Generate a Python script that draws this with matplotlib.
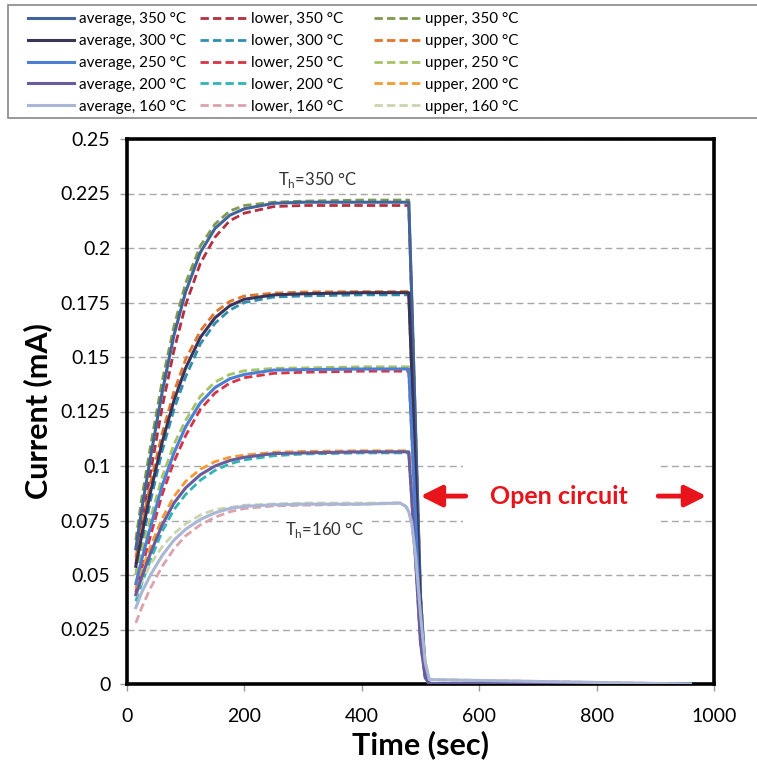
import matplotlib
matplotlib.use("Agg")
import matplotlib.pyplot as plt
from matplotlib.patches import Rectangle

plt.rcParams['font.family'] = ['Lato', 'DejaVu Sans']

# ---------------- data ----------------
time_s = [15, 25, 40, 60, 80, 100, 125, 150, 175, 200, 250, 300, 400, 465, 475, 480, 485, 492, 500, 508, 515, 960]

avg_350 = [0.062, 0.080, 0.104, 0.134, 0.160, 0.180, 0.198, 0.209, 0.215, 0.218, 0.2205, 0.221, 0.221, 0.221, 0.221, 0.221, 0.178, 0.113, 0.040, 0.007, 0, 0]
avg_300 = [0.054, 0.068, 0.088, 0.111, 0.130, 0.145, 0.159, 0.168, 0.1735, 0.1765, 0.1785, 0.179, 0.1795, 0.1795, 0.1795, 0.1795, 0.144, 0.092, 0.033, 0.006, 0, 0]
avg_250 = [0.046, 0.057, 0.072, 0.091, 0.106, 0.118, 0.129, 0.136, 0.140, 0.142, 0.144, 0.1442, 0.1445, 0.1445, 0.1445, 0.1445, 0.116, 0.074, 0.026, 0.004, 0, 0]
avg_200 = [0.041, 0.049, 0.060, 0.073, 0.083, 0.090, 0.096, 0.100, 0.1025, 0.104, 0.1057, 0.106, 0.1065, 0.1065, 0.1065, 0.1065, 0.085, 0.055, 0.019, 0.003, 0, 0]
avg_160 = [0.035, 0.042, 0.050, 0.059, 0.066, 0.071, 0.0755, 0.0785, 0.0805, 0.0815, 0.0822, 0.0825, 0.0825, 0.083, 0.0815, 0.079, 0.074, 0.058, 0.032, 0.010, 0.002, 0]

lower_350 = [0.055, 0.073, 0.097, 0.127, 0.153, 0.174, 0.193, 0.205, 0.2125, 0.216, 0.219, 0.2195, 0.2195, 0.2195, 0.2195, 0.2195, 0.176, 0.112, 0.040, 0.007, 0, 0]
lower_300 = [0.050, 0.064, 0.084, 0.107, 0.126, 0.141, 0.156, 0.1655, 0.1715, 0.175, 0.1775, 0.178, 0.1785, 0.1785, 0.1785, 0.1785, 0.143, 0.091, 0.033, 0.006, 0, 0]
lower_250 = [0.042, 0.053, 0.068, 0.087, 0.102, 0.114, 0.126, 0.1335, 0.138, 0.1405, 0.1425, 0.143, 0.1435, 0.1435, 0.1435, 0.1435, 0.115, 0.073, 0.026, 0.004, 0, 0]
lower_200 = [0.038, 0.046, 0.057, 0.070, 0.080, 0.087, 0.0935, 0.098, 0.101, 0.1028, 0.1047, 0.1055, 0.106, 0.106, 0.106, 0.106, 0.085, 0.055, 0.019, 0.003, 0, 0]
lower_160 = [0.028, 0.035, 0.044, 0.054, 0.062, 0.068, 0.073, 0.0765, 0.079, 0.0805, 0.0817, 0.082, 0.0825, 0.083, 0.0815, 0.079, 0.074, 0.058, 0.032, 0.010, 0.002, 0]

upper_350 = [0.066, 0.085, 0.109, 0.139, 0.164, 0.184, 0.201, 0.211, 0.217, 0.2195, 0.221, 0.2215, 0.222, 0.222, 0.222, 0.222, 0.178, 0.114, 0.041, 0.007, 0, 0]
upper_300 = [0.058, 0.072, 0.092, 0.115, 0.134, 0.149, 0.162, 0.1705, 0.1755, 0.178, 0.1793, 0.1798, 0.180, 0.180, 0.180, 0.180, 0.144, 0.093, 0.034, 0.006, 0, 0]
upper_250 = [0.050, 0.061, 0.076, 0.095, 0.110, 0.121, 0.132, 0.1385, 0.142, 0.1437, 0.1448, 0.145, 0.1455, 0.1455, 0.1455, 0.1455, 0.117, 0.075, 0.027, 0.004, 0, 0]
upper_200 = [0.044, 0.052, 0.063, 0.076, 0.086, 0.093, 0.0985, 0.102, 0.104, 0.105, 0.1063, 0.1067, 0.107, 0.107, 0.107, 0.107, 0.086, 0.056, 0.020, 0.003, 0, 0]
upper_160 = [0.040, 0.047, 0.055, 0.063, 0.069, 0.0735, 0.0775, 0.080, 0.081, 0.082, 0.0826, 0.083, 0.083, 0.083, 0.0815, 0.079, 0.074, 0.058, 0.032, 0.010, 0.002, 0]

temps = ["350", "300", "250", "200", "160"]
avg_series = [avg_350, avg_300, avg_250, avg_200, avg_160]
lower_series = [lower_350, lower_300, lower_250, lower_200, lower_160]
upper_series = [upper_350, upper_300, upper_250, upper_200, upper_160]

avg_colors = ["#41649a", "#3b3458", "#4a7fd4", "#6a5b9e", "#aab6d6"]
lower_colors = ["#b5303f", "#2f8fb0", "#d83444", "#2fb5b5", "#dba3ab"]
upper_colors = ["#7d9a4e", "#e2742c", "#a6c464", "#f59a33", "#c9d6ad"]

y_ticks = [0, 0.025, 0.05, 0.075, 0.1, 0.125, 0.15, 0.175, 0.2, 0.225, 0.25]
y_tick_labels = ["0", "0.025", "0.05", "0.075", "0.1", "0.125", "0.15", "0.175", "0.2", "0.225", "0.25"]
x_ticks = [0, 200, 400, 600, 800, 1000]

# ---------------- figure ----------------
W, H = 757, 763
fig = plt.figure(figsize=(W / 100, H / 100), dpi=100)
ax = fig.add_axes([127 / W, 1 - 684 / H, (714 - 127) / W, (684 - 139) / H])

ax.set_xlim(0, 1000)
ax.set_ylim(0, 0.25)
ax.set_yticks(y_ticks)
ax.set_yticklabels(y_tick_labels)
ax.set_xticks(x_ticks)
ax.tick_params(axis='both', labelsize=14, length=5, width=1, color='#999999')
ax.tick_params(axis='x', pad=12)
ax.tick_params(axis='y', pad=7)
for s in ax.spines.values():
    s.set_linewidth(2.6)
    s.set_color('black')
ax.grid(axis='y', color='#a8a8a8', linestyle=(0, (5, 3)), linewidth=1)
ax.set_axisbelow(True)

avg_handles, lower_handles, upper_handles = [], [], []
for i in range(5):
    l2, = ax.plot(time_s, lower_series[i], color=lower_colors[i], lw=2.0, ls=(0, (3, 1.5)), zorder=3,
                  label=f"lower, {temps[i]} °C")
    l3, = ax.plot(time_s, upper_series[i], color=upper_colors[i], lw=2.0, ls=(0, (3, 1.5)), zorder=3,
                  label=f"upper, {temps[i]} °C")
    lower_handles.append(l2)
    upper_handles.append(l3)
for i in range(5):
    l1, = ax.plot(time_s, avg_series[i], color=avg_colors[i], lw=2.2, zorder=3.5,
                  label=f"average, {temps[i]} °C")
    avg_handles.append(l1)

# annotations
ax.text(325, 0.2312, "T$_\\mathregular{h}$=350 °C", fontsize=12, ha='center', va='center', color='#333333')
ax.text(337, 0.0705, "T$_\\mathregular{h}$=160 °C", fontsize=12, ha='center', va='center', color='#333333',
        bbox=dict(facecolor='white', edgecolor='none', pad=4), zorder=2)

ax.add_patch(Rectangle((572, 0.066), 331, 0.040, facecolor='white', edgecolor='none', zorder=1.5))
red = '#e8141c'
ax.text(735, 0.0862, "Open circuit", fontsize=18, fontweight='bold', color=red, ha='center', va='center', zorder=4)
ax.annotate("", xy=(500, 0.0862), xytext=(577, 0.0862),
            arrowprops=dict(arrowstyle='-|>', color=red, lw=3.5, mutation_scale=32, shrinkA=0, shrinkB=0), zorder=4)
ax.annotate("", xy=(987, 0.0862), xytext=(905, 0.0862),
            arrowprops=dict(arrowstyle='-|>', color=red, lw=3.5, mutation_scale=32, shrinkA=0, shrinkB=0), zorder=4)

ax.set_xlabel("Time (sec)", fontsize=22, fontweight='bold', labelpad=4)
ax.set_ylabel("Current (mA)", fontsize=22, fontweight='bold', labelpad=6)

# legend (three columns, one framed box)
fig.patches.append(Rectangle((8 / W, 1 - 118 / H), (W - 8) / W + 0.01, 113 / H, transform=fig.transFigure,
                             facecolor='white', edgecolor='#888888', lw=1.2, zorder=0))
col_x = [28, 200, 374]
for cx, hs in zip(col_x, [avg_handles, lower_handles, upper_handles]):
    fig.legend(handles=hs, loc='upper left', bbox_to_anchor=(cx / W, 1 - 12 / H),
               frameon=False, fontsize=11, handlelength=3.0, handletextpad=0.35,
               labelspacing=0.52, borderpad=0, borderaxespad=0)

fig.savefig("out.png", dpi=100)
